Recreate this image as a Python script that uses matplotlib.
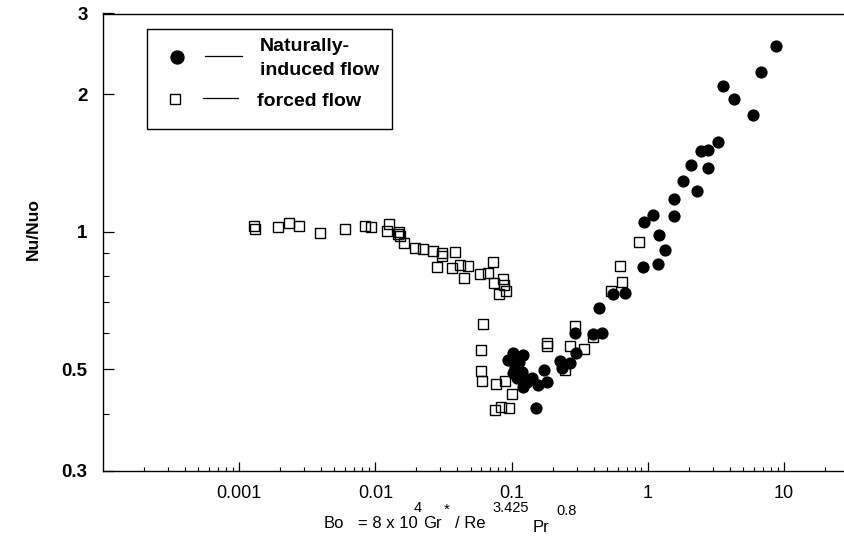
import numpy as np
import matplotlib
matplotlib.use("Agg")
import matplotlib.pyplot as plt
from matplotlib.lines import Line2D
from matplotlib.patches import Rectangle
from matplotlib.ticker import FixedLocator, NullFormatter

plt.rcParams["font.family"] = ["Liberation Sans", "DejaVu Sans"]

# forced flow (open squares)
forced_bo = [0.00129, 0.00131, 0.00192, 0.00232, 0.00275, 0.00393, 0.0060, 0.0084,
             0.00925, 0.0125, 0.0121, 0.0149, 0.0152, 0.0147, 0.0163, 0.0196,
             0.0225, 0.0264, 0.0307, 0.031, 0.0385, 0.0282, 0.0364, 0.0419,
             0.0482, 0.0448, 0.0587, 0.0676, 0.0728, 0.0748, 0.0871, 0.0881,
             0.0912, 0.081, 0.0612, 0.0592, 0.0597, 0.0602, 0.0772, 0.090,
             0.1003, 0.0756, 0.0833, 0.0955, 0.181, 0.181, 0.2925, 0.269,
             0.3405, 0.399, 0.247, 0.538, 0.644, 0.626, 0.863]
forced_nu = [1.029, 1.014, 1.025, 1.046, 1.031, 0.992, 1.014, 1.029,
             1.022, 1.038, 1.005, 0.997, 0.980, 0.987, 0.946, 0.920,
             0.915, 0.909, 0.900, 0.886, 0.904, 0.838, 0.834, 0.846,
             0.841, 0.793, 0.808, 0.811, 0.860, 0.771, 0.788, 0.764,
             0.743, 0.731, 0.627, 0.551, 0.496, 0.4725, 0.464, 0.471,
             0.441, 0.408, 0.4125, 0.411, 0.5715, 0.563, 0.622, 0.562,
             0.553, 0.587, 0.498, 0.743, 0.777, 0.843, 0.951]

# naturally-induced flow (filled circles)
natural_bo = [8.75, 6.79, 3.55, 4.30, 5.90, 3.27, 2.45, 2.79, 2.08, 2.79,
              1.83, 2.29, 1.56, 1.57, 1.09, 0.944, 1.22, 1.34, 0.928, 1.18,
              0.681, 0.553, 0.441, 0.460, 0.399, 0.2925, 0.298, 0.227, 0.269, 0.234,
              0.174, 0.181, 0.157, 0.151, 0.100, 0.122, 0.106, 0.119, 0.109, 0.129,
              0.122, 0.141, 0.103, 0.0947, 0.114, 0.103]
natural_nu = [2.55, 2.23, 2.08, 1.95, 1.80, 1.57, 1.50, 1.51, 1.40, 1.38,
              1.29, 1.23, 1.18, 1.08, 1.09, 1.05, 0.983, 0.912, 0.836, 0.849,
              0.735, 0.731, 0.682, 0.599, 0.596, 0.599, 0.544, 0.521, 0.515, 0.5025,
              0.498, 0.470, 0.462, 0.411, 0.528, 0.537, 0.5065, 0.494, 0.478, 0.470,
              0.458, 0.478, 0.542, 0.524, 0.519, 0.490]

x_ticks = [0.001, 0.01, 0.1, 1, 10]
x_labels = ["0.001", "0.01", "0.1", "1", "10"]
y_ticks = [0.3, 0.5, 1, 2, 3]
y_labels = ["0.3", "0.5", "1", "2", "3"]
y_minor = [0.4, 0.6, 0.7, 0.8, 0.9]

W, H = 845, 559
fig = plt.figure(figsize=(W / 100, H / 100), dpi=100)
ax = fig.add_axes([103 / W, 1 - 470.7 / H, 1 - 103 / W, (470.7 - 13.5) / H])


def fx(px):
    return px / W


def fy(py):
    return 1 - py / H


ax.plot(forced_bo, forced_nu, ls="none", marker="s", ms=6.6, mfc="none",
        mec="black", mew=1.0)
ax.plot(natural_bo, natural_nu, ls="none", marker="o", ms=8.8, mfc="black",
        mec="black", mew=0)

ax.set_xscale("log")
ax.set_yscale("log")
ax.set_xlim(1e-4, 10 ** ((W - 647.7) / 136.2))
ax.set_ylim(0.3, 3)

ax.xaxis.set_major_locator(FixedLocator(x_ticks))
ax.set_xticklabels(x_labels)
ax.xaxis.set_minor_locator(FixedLocator(
    [m * 10.0 ** e for e in range(-4, 2) for m in range(2, 10)]))
ax.xaxis.set_minor_formatter(NullFormatter())
ax.yaxis.set_major_locator(FixedLocator(y_ticks))
ax.set_yticklabels(y_labels)
ax.yaxis.set_minor_locator(FixedLocator(y_minor))
ax.yaxis.set_minor_formatter(NullFormatter())

ax.tick_params(axis="x", which="major", direction="in", length=6.5, width=0.9,
               pad=10, labelsize=13)
ax.tick_params(axis="x", which="minor", direction="in", length=2.8, width=0.8)
ax.tick_params(axis="y", which="major", direction="in", length=8, width=0.9,
               pad=11, labelsize=13.5)
ax.tick_params(axis="y", which="minor", direction="in", length=4, width=0.8)
for lab in ax.get_yticklabels():
    lab.set_fontweight("bold")

ax.spines["right"].set_visible(False)
for s in ("left", "bottom", "top"):
    ax.spines[s].set_linewidth(1.0)

# legend box drawn by hand: marker, short line, label
fig.add_artist(Rectangle((fx(147), fy(129)), fx(392) - fx(147), fy(29) - fy(129),
                         transform=fig.transFigure, facecolor="white",
                         edgecolor="black", lw=1.0, zorder=5))
fig.add_artist(Line2D([fx(177)], [fy(57)], transform=fig.transFigure, ls="none",
                      marker="o", ms=9.3, mfc="black", mec="black", zorder=6))
fig.add_artist(Line2D([fx(205), fx(242)], [fy(56.5), fy(56.5)],
                      transform=fig.transFigure, color="black", lw=0.9, zorder=6))
fig.add_artist(Line2D([fx(175)], [fy(99)], transform=fig.transFigure, ls="none",
                      marker="s", ms=7.2, mfc="white", mec="black", mew=1.0,
                      zorder=6))
fig.add_artist(Line2D([fx(203), fx(238)], [fy(97.5), fy(97.5)],
                      transform=fig.transFigure, color="black", lw=0.9, zorder=6))
for txt, px, py in [("Naturally-", 260, 51), ("induced flow", 260, 75),
                    ("forced flow", 257, 106)]:
    fig.text(fx(px), fy(py), txt, ha="left", va="baseline", fontsize=14,
             fontweight="bold", zorder=7)

# y label
fig.text(fx(33), fy(229), "Nu/Nuo", rotation=90, ha="center", va="center",
         fontsize=12.5, fontweight="bold")

# x label, pieced together like the original typesetting
pieces = [
    ("Bo", 324, 528, 12),
    ("= 8 x 10", 358, 528, 12),
    ("4", 414, 512, 10.5),
    ("Gr", 423, 528, 12),
    ("*", 444, 514, 11),
    ("/ Re", 455, 528, 12),
    ("3.425", 492, 512, 10.5),
    ("Pr", 533, 532, 12),
    ("0.8", 556, 515, 10.5),
]
for txt, px, py, fs in pieces:
    fig.text(fx(px), fy(py), txt, ha="left", va="baseline", fontsize=fs)

fig.savefig("out.png", dpi=100)
